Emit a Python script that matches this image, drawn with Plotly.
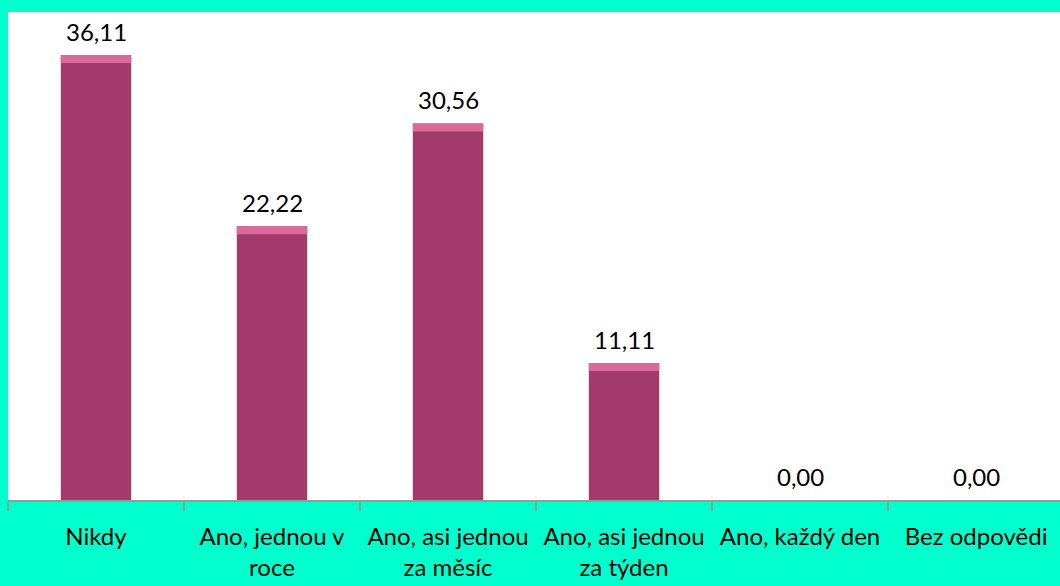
import plotly.graph_objects as go

categories = ["Nikdy", "Ano, jednou v<br>roce", "Ano, asi jednou<br>za měsíc",
              "Ano, asi jednou<br>za týden", "Ano, každý den", "Bez odpovědi"]
values = [36.11, 22.22, 30.56, 11.11, 0.00, 0.00]

bevel = 0.65
hl_base = [v - bevel if v > 0 else 0 for v in values]
hl_h = [bevel if v > 0 else 0 for v in values]

FONT = "Lato"

fig = go.Figure()
fig.add_trace(go.Bar(
    x=categories, y=values, width=0.4,
    marker=dict(color="#A23A6B", line=dict(width=0)),
    hoverinfo="skip",
))
fig.add_trace(go.Bar(
    x=categories, y=hl_h, base=hl_base, width=0.4,
    marker=dict(color="#D86A9C", line=dict(width=0)),
    hoverinfo="skip",
))
for c, v in zip(categories, values):
    fig.add_annotation(
        x=c, y=v, text=f"{v:.2f}".replace(".", ","), showarrow=False,
        yanchor="bottom", yshift=7,
        font=dict(size=24, family=FONT, color="#000000"),
    )

fig.update_layout(
    width=1060, height=586,
    barmode="overlay",
    showlegend=False,
    paper_bgcolor="#00FFCC",
    plot_bgcolor="#FFFFFF",
    margin=dict(l=8, r=0, t=12, b=86),
    font=dict(family=FONT, size=24, color="#000000"),
    xaxis=dict(
        range=[-0.5, 5.477], showline=True, linecolor="#999999", linewidth=2,
        ticks="outside", tickson="boundaries", ticklen=9, tickcolor="#999999",
        tickwidth=2, tickfont=dict(size=24, family=FONT), ticklabelstandoff=14,
        showgrid=False, zeroline=False,
    ),
    yaxis=dict(range=[0, 39.6], visible=False, showgrid=False, zeroline=False),
)
fig.write_html(
    "out.html",
    config={"displayModeBar": False},
    post_script="document.body.style.margin='0';document.body.style.background='#00FFCC';",
)
